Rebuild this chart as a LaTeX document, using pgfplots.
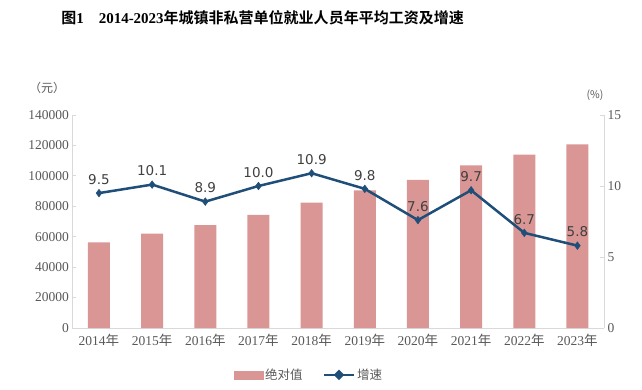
\documentclass[border=0pt]{standalone}
\usepackage{pgfplots}
\pgfplotsset{compat=1.18}
\usepackage{fontspec}
\setmainfont{Liberation Serif}
\newfontfamily\cjk{Noto Sans CJK SC}
\newfontfamily\cjkb{Noto Sans CJK SC Bold}
\newfontfamily\dv{DejaVu Sans}
\definecolor{barred}{HTML}{D99694}
\definecolor{lineblue}{HTML}{1F4E79}
\definecolor{txtgray}{HTML}{595959}
\definecolor{axgray}{HTML}{D9D9D9}
\begin{document}
\begin{tikzpicture}[x=1bp,y=1bp]
\path[use as bounding box] (0,0) rectangle (642,389);
\node[font=\fontsize{15bp}{17bp}\selectfont] at (262.5,371) {{\cjkb 图}\textbf{1\quad 2014-2023}{\cjkb 年城镇非私营单位就业人员年平均工资及增速}};
\node[font=\cjk\fontsize{12bp}{14bp}\selectfont, text=txtgray] at (47,301) {（元）};
\node[font=\cjk\fontsize{10.5bp}{12bp}\selectfont, text=txtgray] at (595,294) {(\%)};
\begin{axis}[at={(72.4bp,61bp)}, anchor=south west, scale only axis,
  width=531.6bp, height=213bp,
  xmin=-0.5, xmax=9.5, ymin=0, ymax=140000,
  axis y line*=left, axis x line*=bottom,
  axis line style={axgray, line width=0.8bp},
  ytick={0,20000,...,140000},
  xtick={0,...,9},
  xticklabels={2014{\cjk 年},2015{\cjk 年},2016{\cjk 年},2017{\cjk 年},2018{\cjk 年},2019{\cjk 年},2020{\cjk 年},2021{\cjk 年},2022{\cjk 年},2023{\cjk 年}},
  x tick style={draw=none},
  y tick style={axgray, line width=0.8bp},
  tick align=inside, major tick length=4bp,
  scaled y ticks=false,
  /pgf/number format/assume math mode=true,
  yticklabel style={/pgf/number format/fixed, /pgf/number format/1000 sep={}},
  ticklabel style={font=\fontsize{13.5bp}{15bp}\selectfont, text=txtgray},
  xticklabel style={yshift=-3bp},
  clip=false]
\addplot[ybar, bar width=22bp, fill=barred, draw=none] coordinates {
(0,56360) (1,62029) (2,67569) (3,74318) (4,82413) (5,90501) (6,97379) (7,106837) (8,114029) (9,120698)};
\end{axis}
\begin{axis}[at={(72.4bp,61bp)}, anchor=south west, scale only axis,
  width=531.6bp, height=213bp,
  xmin=-0.5, xmax=9.5, ymin=0, ymax=15,
  axis y line*=right, axis x line=none,
  axis line style={axgray, line width=0.8bp},
  ytick={0,5,10,15},
  y tick style={axgray, line width=0.8bp},
  tick align=inside, major tick length=4bp,
  /pgf/number format/assume math mode=true,
  ticklabel style={font=\fontsize{13.5bp}{15bp}\selectfont, text=txtgray},
  clip=false,
  legend style={at={(0.445,-0.22)}, anchor=center, draw=none, fill=none,
    legend columns=2, font=\cjk\fontsize{12.5bp}{14bp}\selectfont, text=txtgray,
    /tikz/every even column/.append style={column sep=18bp}},
  legend cell align=left]
\addlegendimage{legend image code/.code={\fill[barred] (0bp,-4bp) rectangle (29bp,4bp);}}
\addlegendentry{绝对值}
\addplot[lineblue, line width=2.5bp, mark=diamond*, mark size=3.8bp,
  mark options={line width=0.5bp},
  point meta=explicit symbolic,
  nodes near coords,
  every node near coord/.append style={font=\dv\fontsize{13.5bp}{15bp}\selectfont, text=black!75, anchor=south, yshift=5bp},
  legend image code/.code={\draw[lineblue, line width=2.5bp] (0bp,0bp) -- (30bp,0bp); \fill[lineblue] (15bp,0bp) +(-3.5bp,0) -- +(0,3.5bp) -- +(3.5bp,0) -- +(0,-3.5bp) -- cycle;}]
coordinates {
(0,9.5) [9.5] (1,10.1) [10.1] (2,8.9) [8.9] (3,10.0) [10.0] (4,10.9) [10.9] (5,9.8) [9.8] (6,7.6) [7.6] (7,9.7) [9.7] (8,6.7) [6.7] (9,5.8) [5.8]};
\addlegendentry{增速}
\end{axis}
\end{tikzpicture}
\end{document}
